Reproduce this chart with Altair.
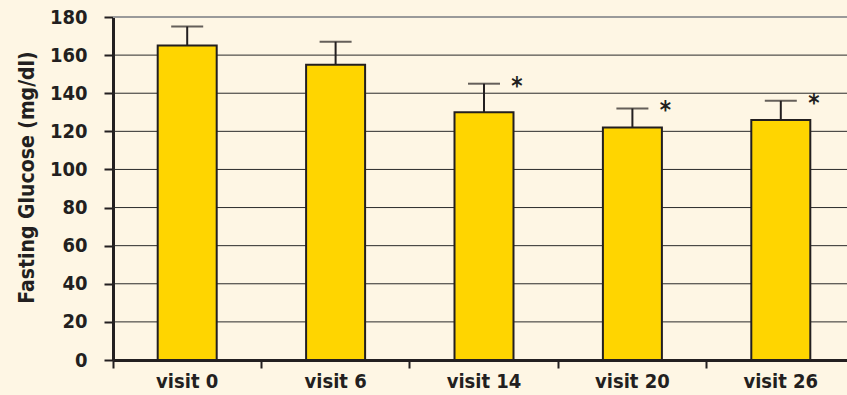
import altair as alt
import pandas as pd

visits = ["visit 0", "visit 6", "visit 14", "visit 20", "visit 26"]
means = [165, 155, 130, 122, 126]
errors = [10, 12, 15, 10, 10]
marks = ["", "", "*", "*", "*"]
y_ticks = [0, 20, 40, 60, 80, 100, 120, 140, 160, 180]
grid_dark = [20, 40, 60, 80, 100, 120, 140, 160]
grid_top = [180]

df = pd.DataFrame({
    "visit": visits,
    "mean": means,
    "top": [m + e for m, e in zip(means, errors)],
    "sig": marks,
})
gd = pd.DataFrame({"g": grid_dark})
gt = pd.DataFrame({"g": grid_top})

FONT = "Liberation Sans Narrow, DejaVu Sans Condensed, sans-serif"
BG = "#FEF6E4"
INK = "#231f20"

x_axis = alt.Axis(labelAngle=0, bandPosition=0, labelAlign="center",
                  tickSize=8, tickWidth=2,
                  tickColor=INK, domainColor=INK, domainWidth=3,
                  labelFont=FONT, labelFontSize=20, labelFontWeight="bold",
                  labelColor=INK, labelPadding=3, labelOverlap=False)
x_scale = alt.Scale(range=[0, 742], paddingInner=0, paddingOuter=0)

y_axis = alt.Axis(values=y_ticks, tickCount=10, tickSize=9, tickWidth=2,
                  tickColor=INK, domainColor=INK, domainWidth=3,
                  labelFont=FONT, labelFontSize=20, labelFontWeight="bold",
                  labelColor=INK, labelPadding=17, labelOverlap=False, labelFlush=False,
                  grid=False,
                  title="Fasting Glucose (mg/dl)", titleFont=FONT, titleFontSize=21,
                  titleFontWeight="bold", titleColor=INK, titleAngle=-90,
                  titleX=-80, titleY=160, titleAlign="center", titleBaseline="alphabetic")
y_scale = alt.Scale(domain=[0, 180], nice=False)

def X():
    return alt.X("visit:N", sort=visits, title=None, scale=x_scale, axis=x_axis)

def Y(field):
    return alt.Y(field, scale=y_scale, axis=y_axis, title="Fasting Glucose (mg/dl)")

grid1 = alt.Chart(gd).mark_rule(color="#2a2a2a", strokeWidth=1).encode(
    y=Y("g:Q"), x=alt.value(0), x2=alt.value(734))
grid2 = alt.Chart(gt).mark_rule(color="#9a9a9a", strokeWidth=2).encode(
    y=Y("g:Q"), x=alt.value(0), x2=alt.value(734))

base = alt.Chart(df)

bars = base.mark_bar(size=59, color="#FFD500", stroke=INK, strokeWidth=2).encode(
    x=X(), y=Y("mean:Q"))

err = base.mark_rule(color=INK, strokeWidth=2).encode(
    x=X(), y=Y("mean:Q"), y2="top:Q")

caps = base.mark_tick(color=INK, size=32, thickness=2, orient="horizontal").encode(
    x=X(), y=Y("top:Q"))

stars = base.mark_text(dx=33, dy=3, fontSize=24, fontWeight="bold", font=FONT,
                       color=INK, baseline="middle").encode(
    x=X(), y=Y("top:Q"), text="sig:N")

chart = alt.layer(grid1, grid2, bars, err, caps, stars).properties(
    width=734, height=343,
    background=BG,
    padding={"left": 113, "top": 17, "right": 0, "bottom": 35},
    autosize=alt.AutoSizeParams(type="none"),
).configure_view(stroke=None, fill=BG)

chart.save("out.html", embed_options={"renderer": "svg", "actions": False})
